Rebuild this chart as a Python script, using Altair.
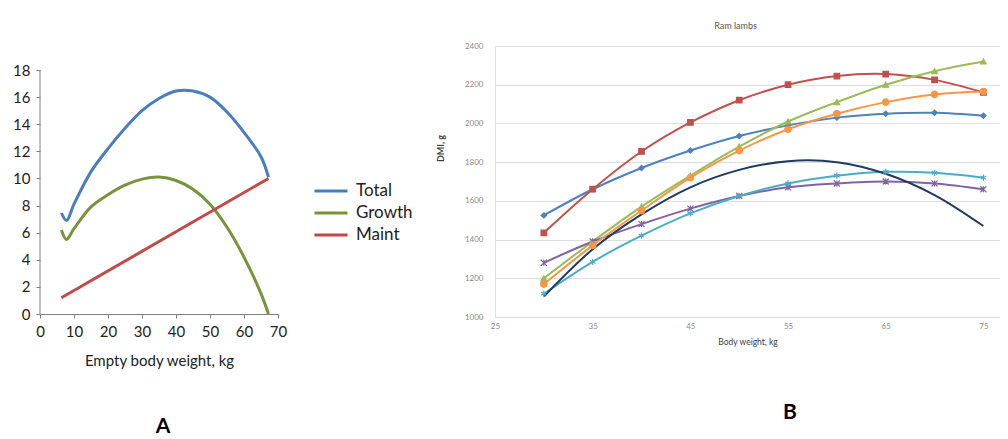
import altair as alt
import pandas as pd

# ---------------- Panel A data ----------------
A_X = [6.3, 7.8, 10, 15, 20, 25, 30, 35, 40, 45, 50, 55, 60, 65, 67.2]
A_TOTAL = [7.45, 6.9, 8.1, 10.5, 12.2, 13.7, 15.0, 15.9, 16.45, 16.45, 16.0, 14.9, 13.4, 11.6, 10.1]
A_GROWTH = [6.2, 5.5, 6.3, 7.9, 8.8, 9.5, 9.95, 10.1, 9.85, 9.2, 8.1, 6.4, 4.2, 1.5, 0.0]
A_MAINT_X = [6.3, 67.2]
A_MAINT = [1.2, 10.0]
A_SERIES = ["Total", "Growth", "Maint"]
A_COLORS = ["#4A7EBB", "#77933C", "#BE4B48"]

# ---------------- Panel B data ----------------
B_X = [30, 35, 40, 45, 50, 55, 60, 65, 70, 75]
B_S1 = [1525, 1660, 1770, 1860, 1935, 1990, 2030, 2050, 2055, 2040]
B_S2 = [1435, 1660, 1855, 2005, 2120, 2200, 2245, 2255, 2225, 2160]
B_S3 = [1200, 1390, 1570, 1730, 1880, 2010, 2110, 2200, 2270, 2320]
B_S4 = [1280, 1390, 1480, 1560, 1625, 1670, 1690, 1700, 1690, 1660]
B_S5 = [1120, 1285, 1420, 1535, 1625, 1690, 1730, 1750, 1745, 1720]
B_S6 = [1170, 1370, 1550, 1720, 1860, 1970, 2050, 2110, 2150, 2165]
B_S7 = [1105, 1350, 1530, 1670, 1760, 1805, 1800, 1740, 1630, 1470]
B_NAMES = ["Series1", "Series2", "Series3", "Series4", "Series5", "Series6", "Series7"]
B_COLORS = ["#4F81BD", "#C0504D", "#9BBB59", "#8064A2", "#4BACC6", "#F79646", "#1F3A5F"]
B_SHAPES = ["diamond", "square", "triangle-up",
            "M-1,-1L1,1M1,-1L-1,1M0,-1V1",
            "M0,-1V1M-0.87,-0.5L0.87,0.5M-0.87,0.5L0.87,-0.5",
            "circle", "circle"]
B_SIZES = [28, 45, 35, 30, 30, 30, 0]

FONT = "Lato"

# ---------------- Panel A chart ----------------
rowsA = []
for xv, t, g in zip(A_X, A_TOTAL, A_GROWTH):
    rowsA.append({"x": xv, "v": t, "s": "Total"})
    rowsA.append({"x": xv, "v": g, "s": "Growth"})
for xv, m in zip(A_MAINT_X, A_MAINT):
    rowsA.append({"x": xv, "v": m, "s": "Maint"})
dfA = pd.DataFrame(rowsA)

A_W, A_H = 238, 268
A_YMAX = 18 * A_H / 244.0

xA = alt.X("x:Q", scale=alt.Scale(domain=[0, 70], nice=False, zero=False),
           axis=alt.Axis(values=list(range(0, 71, 10)), title="Empty body weight, kg",
                         grid=False, domainColor="#7f7f7f", tickColor="#7f7f7f", tickSize=4,
                         labelOverlap=False, labelFlush=False,
                         labelFont=FONT, labelFontSize=15, labelColor="#222", labelPadding=6,
                         titleFont=FONT, titleFontSize=15, titleFontWeight="normal",
                         titleColor="#222", titlePadding=14))
yA = alt.Y("v:Q", scale=alt.Scale(domain=[0, A_YMAX], nice=False, zero=False),
           axis=alt.Axis(values=list(range(0, 19, 2)), title=None, grid=False, domain=False,
                         labelOverlap=False, labelFlush=False,
                         tickColor="#7f7f7f", tickSize=4, labelFont=FONT, labelFontSize=15,
                         labelColor="#222", labelPadding=6))

linesA = alt.Chart(dfA).mark_line(strokeWidth=3, interpolate="catmull-rom").encode(
    x=xA, y=yA,
    color=alt.Color("s:N", scale=alt.Scale(domain=A_SERIES, range=A_COLORS),
                    legend=alt.Legend(title=None, orient="none", legendX=277, legendY=131,
                                      symbolType="M-1.35,0H1.35", symbolSize=600,
                                      symbolStrokeWidth=3, rowPadding=0, labelOffset=11,
                                      labelFont=FONT, labelFontSize=17, labelColor="#222")),
)
axisRuleA = alt.Chart(pd.DataFrame({"x": [0], "v": [0], "v2": [18]})).mark_rule(
    color="#7f7f7f", strokeWidth=1).encode(x=xA, y=yA, y2="v2:Q")
labelA = alt.Chart(pd.DataFrame({"t": ["A"]})).mark_text(
    font=FONT, fontSize=21, fontWeight="bold", color="#000").encode(
    text="t:N", x=alt.value(123), y=alt.value(381))

chartA = alt.layer(axisRuleA, linesA, labelA).properties(width=A_W, height=A_H)

# ---------------- Panel B chart ----------------
rowsB = []
for name, vals in zip(B_NAMES, [B_S1, B_S2, B_S3, B_S4, B_S5, B_S6, B_S7]):
    for xv, v in zip(B_X, vals):
        rowsB.append({"x": xv, "v": v, "s": name})
dfB = pd.DataFrame(rowsB)

xB = alt.X("x:Q", scale=alt.Scale(domain=[25, 76.7], nice=False, zero=False),
           axis=alt.Axis(values=[25, 35, 45, 55, 65, 75], title="Body weight, kg", grid=False,
                         domain=False, ticks=False, labelFlush=False, labelOverlap=False,
                         labelFont=FONT, labelFontSize=8,
                         labelColor="#8a8a8a", labelPadding=5, titleFont=FONT, titleFontSize=8.5,
                         titleFontWeight="normal", titleColor="#404040", titlePadding=7))
yB = alt.Y("v:Q", scale=alt.Scale(domain=[1000, 2400], nice=False, zero=False),
           axis=alt.Axis(values=list(range(1000, 2401, 200)), format="d", title="DMI, g",
                         grid=True, labelFlush=False, labelOverlap=False,
                         gridColor="#dedede", domain=True, domainColor="#dedede", ticks=False,
                         labelFont=FONT, labelFontSize=8, labelColor="#8a8a8a", labelPadding=12,
                         titleFont=FONT, titleFontSize=9, titleFontWeight="bold",
                         titleColor="#404040", titleX=-50, titleY=102))
colB = alt.Color("s:N", scale=alt.Scale(domain=B_NAMES, range=B_COLORS), legend=None)

linesB = alt.Chart(dfB).mark_line(strokeWidth=2, interpolate="catmull-rom").encode(
    x=xB, y=yB, color=colB, detail="s:N")
pointsB = alt.Chart(dfB).transform_filter(alt.datum.s != "Series7").mark_point(
    filled=True, strokeWidth=1.2, opacity=1).encode(
    x=xB, y=yB, color=colB,
    stroke=alt.Stroke("s:N", scale=alt.Scale(domain=B_NAMES, range=B_COLORS), legend=None),
    shape=alt.Shape("s:N", scale=alt.Scale(domain=B_NAMES, range=B_SHAPES), legend=None),
    size=alt.Size("s:N", scale=alt.Scale(domain=B_NAMES, range=B_SIZES), legend=None))
labelB = alt.Chart(pd.DataFrame({"t": ["B"]})).mark_text(
    font=FONT, fontSize=21, fontWeight="bold", color="#000").encode(
    text="t:N", x=alt.value(295), y=alt.value(367))

chartB = alt.layer(linesB, pointsB, labelB).properties(
    width=505, height=271,
    title=alt.TitleParams("Ram lambs", font=FONT, fontSize=9, fontWeight="normal",
                          color="#555", anchor="middle", dx=-12, offset=11))

chart = alt.hconcat(chartA, chartB, spacing=217, bounds="flush").resolve_scale(
    color="independent", shape="independent", size="independent", stroke="independent"
).configure_view(stroke=None).properties(
    padding={"left": 4, "top": 14, "right": 0, "bottom": 0})

chart.save("out.html", embed_options={"renderer": "svg", "actions": False})
